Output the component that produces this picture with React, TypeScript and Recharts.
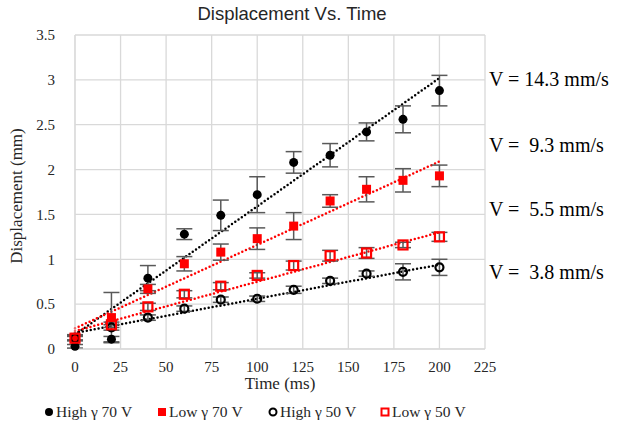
import React from "react"
import { ScatterChart, Scatter, XAxis, YAxis, CartesianGrid, ErrorBar, ReferenceLine } from "recharts"

// time points (ms)
const times = [0, 20, 40, 60, 80, 100, 120, 140, 160, 180, 200]

// displacement (mm)
const highG70 = [0.03, 0.11, 0.79, 1.28, 1.49, 1.72, 2.08, 2.16, 2.42, 2.56, 2.88]
const highG70Err = [0.02, 0.03, 0.14, 0.06, 0.17, 0.2, 0.12, 0.13, 0.1, 0.15, 0.17]
const lowG70 = [0.13, 0.35, 0.67, 0.95, 1.08, 1.23, 1.37, 1.65, 1.78, 1.88, 1.93]
const lowG70Err = [0.03, 0.28, 0.05, 0.08, 0.09, 0.12, 0.15, 0.07, 0.14, 0.13, 0.12]
const highG50 = [0.12, 0.24, 0.35, 0.45, 0.55, 0.56, 0.66, 0.76, 0.84, 0.86, 0.91]
const highG50Err = [0.02, 0.03, 0.03, 0.03, 0.03, 0.03, 0.04, 0.03, 0.03, 0.09, 0.09]
const lowG50 = [0.12, 0.27, 0.47, 0.61, 0.7, 0.82, 0.93, 1.04, 1.07, 1.16, 1.25]
const lowG50Err = [0.03, 0.03, 0.04, 0.04, 0.04, 0.03, 0.05, 0.06, 0.06, 0.03, 0.05]

// linear trend lines: value at t=0 and t=200
const trendX = [0, 200]
const highG70Trend = [0.16, 3.02]
const lowG70Trend = [0.23, 2.09]
const lowG50Trend = [0.2, 1.3]
const highG50Trend = [0.18, 0.94]

const velocityLabels = ["V = 14.3 mm/s", "V =  9.3 mm/s", "V =  5.5 mm/s", "V =  3.8 mm/s"]

const xTicks = [0, 25, 50, 75, 100, 125, 150, 175, 200, 225]
const yTicks = [0, 0.5, 1, 1.5, 2, 2.5, 3, 3.5]

const toPoints = (ys: number[], errs: number[]) => times.map((t, i) => ({ x: t, y: ys[i], err: errs[i] }))
const toSegment = (ys: number[]) => trendX.map((x, i) => ({ x, y: ys[i] }))

const serif = "'Liberation Serif', 'Times New Roman', serif"
const RED = "#ff0000"
const ERR = "#595959"

const FilledCircle = (p: any) => <circle cx={p.cx} cy={p.cy} r={4.5} fill="#000" />
const FilledSquare = (p: any) => <rect x={p.cx - 4.5} y={p.cy - 4.5} width={9} height={9} fill={RED} />
const HollowCircle = (p: any) => <circle cx={p.cx} cy={p.cy} r={4} fill="none" stroke="#000" strokeWidth={2.2} />
const HollowSquare = (p: any) => (
  <rect x={p.cx - 4.5} y={p.cy - 4.5} width={9} height={9} fill="none" stroke={RED} strokeWidth={2.2} />
)

const XTick = (p: any) => (
  <text x={p.x} y={p.y} dy="0.71em" textAnchor="middle" fill="#262626" style={{ fontFamily: serif, fontSize: 15 }}>
    {p.payload.value}
  </text>
)
const YTick = (p: any) => (
  <text x={p.x} y={p.y} dy="0.355em" textAnchor="end" fill="#262626" style={{ fontFamily: serif, fontSize: 15 }}>
    {p.payload.value}
  </text>
)

function LegendItem({ marker, label, left }: { marker: React.ReactNode; label: string; left: number }) {
  return (
    <div style={{ position: "absolute", left, top: 403, display: "flex", alignItems: "center", whiteSpace: "pre" }}>
      <svg width={10} height={10} style={{ marginRight: 2 }}>
        {marker}
      </svg>
      <span style={{ fontFamily: serif, fontSize: 15.5, color: "#262626" }}>{label}</span>
    </div>
  )
}

export default function App() {
  return (
    <div
      style={{
        position: "absolute",
        left: 0,
        top: 0,
        width: 627,
        height: 426,
        background: "#fff",
        fontFamily: serif,
      }}
    >
      <div
        style={{
          position: "absolute",
          left: 182,
          top: 3,
          width: 220,
          textAlign: "center",
          fontFamily: "'Liberation Sans', Arial, sans-serif",
          fontSize: 18.5,
          color: "#262626",
        }}
      >
        Displacement Vs. Time
      </div>

      <ScatterChart width={627} height={426} margin={{ top: 35, right: 142, bottom: 47, left: 15 }}>
        <CartesianGrid stroke="#d9d9d9" strokeWidth={1.3} />
        <XAxis
          type="number"
          dataKey="x"
          domain={[0, 225]}
          ticks={xTicks}
          tickLine={false}
          tickMargin={6}
          axisLine={{ stroke: "#d9d9d9" }}
          tick={XTick}
          height={30}
        />
        <YAxis
          type="number"
          dataKey="y"
          domain={[0, 3.5]}
          ticks={yTicks}
          tickLine={false}
          tickMargin={14}
          axisLine={{ stroke: "#d9d9d9" }}
          tick={YTick}
          width={60}
        />
        <ReferenceLine segment={toSegment(highG70Trend)} stroke="#000" strokeWidth={2.5} strokeDasharray="0 4" strokeLinecap="round" />
        <ReferenceLine segment={toSegment(lowG70Trend)} stroke={RED} strokeWidth={2.5} strokeDasharray="0 4" strokeLinecap="round" />
        <ReferenceLine segment={toSegment(highG50Trend)} stroke="#000" strokeWidth={2.5} strokeDasharray="0 4" strokeLinecap="round" />
        <ReferenceLine segment={toSegment(lowG50Trend)} stroke={RED} strokeWidth={2.5} strokeDasharray="0 4" strokeLinecap="round" />
        <Scatter data={toPoints(highG70, highG70Err)} shape={FilledCircle} isAnimationActive={false}>
          <ErrorBar dataKey="err" direction="y" width={8} stroke={ERR} strokeWidth={1.5} />
        </Scatter>
        <Scatter data={toPoints(lowG70, lowG70Err)} shape={FilledSquare} isAnimationActive={false}>
          <ErrorBar dataKey="err" direction="y" width={8} stroke={ERR} strokeWidth={1.5} />
        </Scatter>
        <Scatter data={toPoints(highG50, highG50Err)} shape={HollowCircle} isAnimationActive={false}>
          <ErrorBar dataKey="err" direction="y" width={8} stroke={ERR} strokeWidth={1.5} />
        </Scatter>
        <Scatter data={toPoints(lowG50, lowG50Err)} shape={HollowSquare} isAnimationActive={false}>
          <ErrorBar dataKey="err" direction="y" width={8} stroke={ERR} strokeWidth={1.5} />
        </Scatter>
      </ScatterChart>

      <div
        style={{
          position: "absolute",
          left: 0,
          top: 196,
          transform: "translate(-50%, -50%) rotate(-90deg)",
          marginLeft: 17,
          whiteSpace: "nowrap",
          fontFamily: serif,
          fontSize: 17,
          color: "#262626",
        }}
      >
        Displacement (mm)
      </div>
      <div
        style={{
          position: "absolute",
          left: 230,
          top: 374,
          width: 100,
          textAlign: "center",
          fontFamily: serif,
          fontSize: 17,
          color: "#262626",
        }}
      >
        Time (ms)
      </div>

      {velocityLabels.map((txt, i) => (
        <div
          key={txt}
          style={{
            position: "absolute",
            left: 489,
            top: [68, 134, 198, 261][i],
            whiteSpace: "pre",
            fontFamily: serif,
            fontSize: 20,
            color: "#000",
          }}
        >
          {txt}
        </div>
      ))}

      <LegendItem left={44} label="High γ 70 V" marker={<circle cx={5} cy={5} r={4} fill="#000" />} />
      <LegendItem left={157} label="Low γ 70 V" marker={<rect x={1} y={1} width={8} height={8} fill={RED} />} />
      <LegendItem
        left={268}
        label="High γ 50 V"
        marker={<circle cx={5} cy={5} r={3.5} fill="none" stroke="#000" strokeWidth={2} />}
      />
      <LegendItem
        left={380}
        label="Low γ 50 V"
        marker={<rect x={1.5} y={1.5} width={7} height={7} fill="none" stroke={RED} strokeWidth={2} />}
      />
    </div>
  )
}
